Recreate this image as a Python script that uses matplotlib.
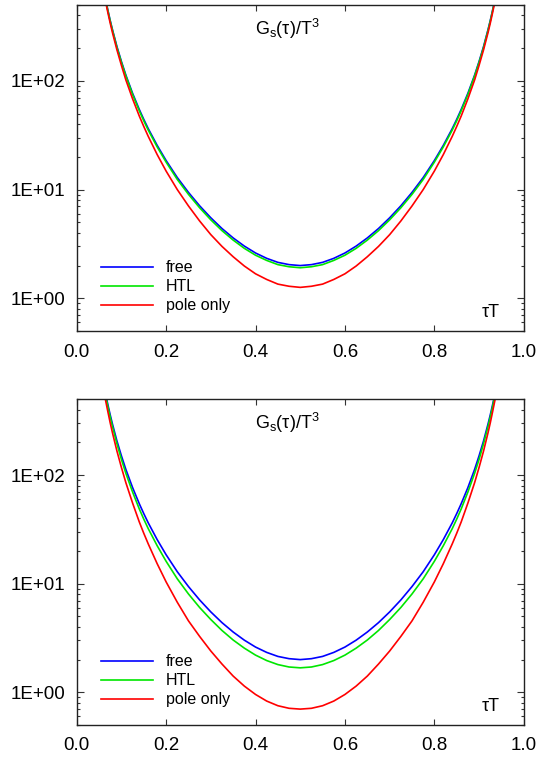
import numpy as np
import matplotlib
matplotlib.use("Agg")
import matplotlib.pyplot as plt
from matplotlib.ticker import FixedLocator, FuncFormatter, LogLocator, NullFormatter

plt.rcParams['font.family'] = ['Liberation Sans', 'DejaVu Sans']

# tau*T sample positions
tau = [0.05, 0.055, 0.06, 0.065, 0.07, 0.075, 0.08, 0.09, 0.10, 0.11, 0.125, 0.14, 0.15,
       0.16, 0.18, 0.20, 0.225, 0.25, 0.275, 0.30, 0.325, 0.35, 0.375, 0.40, 0.425, 0.45,
       0.475, 0.50, 0.525, 0.55, 0.575, 0.60, 0.625, 0.65, 0.675, 0.70, 0.725, 0.75,
       0.775, 0.80, 0.82, 0.84, 0.85, 0.86, 0.875, 0.89, 0.90, 0.91, 0.92, 0.925, 0.93,
       0.935, 0.94, 0.945, 0.95]

free = [1214, 912, 702, 552, 442, 359, 296, 207, 151, 113, 76.9, 54.6, 44.3,
        36.4, 25.5, 18.5, 12.9, 9.42, 7.09, 5.50, 4.38, 3.59, 3.02, 2.61, 2.33, 2.14,
        2.04, 2.00, 2.04, 2.14, 2.33, 2.61, 3.02, 3.59, 4.38, 5.50, 7.09, 9.42,
        12.9, 18.5, 25.5, 36.4, 44.3, 54.6, 76.9, 113, 151, 207, 296, 359, 442,
        552, 702, 912, 1214]

# upper panel
htl_1 = [1202, 903, 695, 546, 438, 354, 292, 203, 148, 111, 75.0, 53.1, 43.0,
         35.3, 24.7, 17.9, 12.4, 9.04, 6.80, 5.27, 4.19, 3.43, 2.88, 2.49, 2.23, 2.04,
         1.95, 1.91, 1.95, 2.04, 2.23, 2.49, 2.88, 3.43, 4.19, 5.27, 6.80, 9.04,
         12.4, 17.9, 24.7, 35.3, 43.0, 53.1, 75.0, 111, 148, 203, 292, 354, 438,
         546, 695, 903, 1202]
pole_1 = [1178, 880, 674, 527, 420, 339, 278, 193, 139, 102, 68.4, 47.5, 38.1,
          30.9, 21.0, 14.8, 10.0, 7.07, 5.14, 3.85, 3.00, 2.41, 1.98, 1.68, 1.49, 1.35,
          1.29, 1.26, 1.29, 1.35, 1.49, 1.68, 1.98, 2.41, 3.00, 3.85, 5.14, 7.07,
          10.0, 14.8, 21.0, 30.9, 38.1, 47.5, 68.4, 102, 139, 193, 278, 339, 420,
          527, 674, 880, 1178]

# lower panel
htl_2 = [1190, 889, 681, 533, 424, 343, 281, 195, 140, 104, 70.0, 48.9, 39.4,
         32.2, 22.4, 16.1, 11.1, 8.05, 6.04, 4.68, 3.71, 3.03, 2.55, 2.20, 1.96, 1.80,
         1.71, 1.68, 1.71, 1.80, 1.96, 2.20, 2.55, 3.03, 3.71, 4.68, 6.04, 8.05,
         11.1, 16.1, 22.4, 32.2, 39.4, 48.9, 70.0, 104, 140, 195, 281, 343, 424,
         533, 681, 889, 1190]
pole_2 = [1093, 812, 618, 480, 380, 303, 246, 167, 118, 85.3, 55.4, 37.1, 29.2,
          23.3, 15.3, 10.4, 6.75, 4.55, 3.27, 2.40, 1.82, 1.41, 1.14, 0.955, 0.830, 0.752,
          0.712, 0.700, 0.712, 0.752, 0.830, 0.955, 1.14, 1.41, 1.82, 2.40, 3.27, 4.55,
          6.75, 10.4, 15.3, 23.3, 29.2, 37.1, 55.4, 85.3, 118, 167, 246, 303, 380,
          480, 618, 812, 1093]

panels = [(htl_1, pole_1), (htl_2, pole_2)]


def decade_label(v, pos):
    return '1E%+03d' % int(round(np.log10(v)))


fig = plt.figure(figsize=(5.4, 7.62), dpi=100)
boxes = [[0.142, 0.5656, 0.828, 0.428], [0.142, 0.0486, 0.828, 0.4274]]

for box, (htl, pole) in zip(boxes, panels):
    ax = fig.add_axes(box)
    ax.plot(tau, free, color='#0000ff', lw=1.2, label='free')
    ax.plot(tau, htl, color='#00e600', lw=1.2, label='HTL')
    ax.plot(tau, pole, color='#ff0000', lw=1.2, label='pole only')
    ax.set_yscale('log')
    ax.set_xlim(0, 1)
    ax.set_ylim(0.5, 500)

    ax.xaxis.set_major_locator(FixedLocator([0.0, 0.2, 0.4, 0.6, 0.8, 1.0]))
    ax.xaxis.set_major_formatter(FuncFormatter(lambda v, p: '%.1f' % v))
    ax.yaxis.set_major_locator(FixedLocator([1, 10, 100]))
    ax.yaxis.set_major_formatter(FuncFormatter(decade_label))
    ax.yaxis.set_minor_locator(LogLocator(base=10, subs=np.arange(2, 10)))
    ax.yaxis.set_minor_formatter(NullFormatter())

    ax.tick_params(which='both', direction='in', top=True, right=True,
                   labelsize=13.5, width=0.8, color='#333333')
    ax.tick_params(axis='x', which='major', length=4, pad=9)
    ax.tick_params(axis='y', which='major', length=5, pad=8)
    ax.tick_params(axis='y', which='minor', length=2.5)
    for s in ax.spines.values():
        s.set_linewidth(1.0)
        s.set_color('#222222')

    ax.text(0.399, 0.908, 'G$_\\mathregular{s}$(τ)/T$^\\mathregular{3}$',
            transform=ax.transAxes, fontsize=13, ha='left', va='baseline')
    ax.text(0.946, 0.043, 'τT', transform=ax.transAxes, fontsize=13,
            ha='right', va='baseline')

    ax.legend(loc='lower left', bbox_to_anchor=(0.041, 0.035), frameon=False,
              fontsize=11.5, handlelength=3.2, handletextpad=0.83, labelspacing=0.25,
              borderaxespad=0)

fig.savefig('out.png', dpi=100)
